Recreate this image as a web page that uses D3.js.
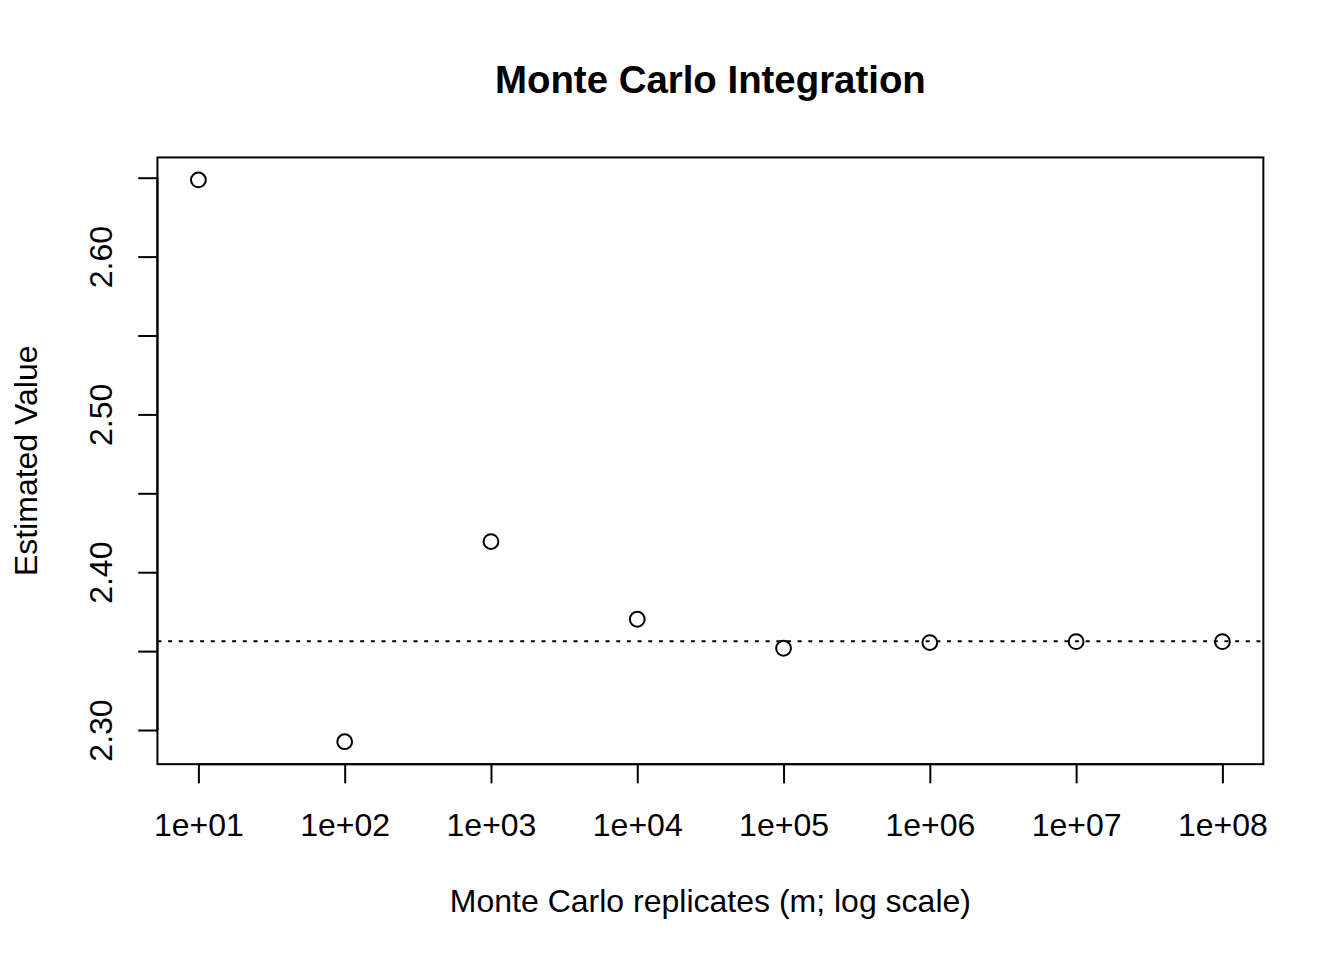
<!DOCTYPE html>
<html>
<head>
<meta charset="utf-8">
<script src="https://cdn.jsdelivr.net/npm/d3@7"></script>
<style>
  html, body { margin: 0; padding: 0; background: #fff; }
  text { font-family: "Liberation Sans", Arial, Helvetica, sans-serif; fill: #000; }
</style>
</head>
<body>
<svg id="chart" width="1344" height="960"></svg>
<script>
// ---- data ----
const replicates = [1e1, 1e2, 1e3, 1e4, 1e5, 1e6, 1e7, 1e8];
const estimates  = [2.6486, 2.2926, 2.4194, 2.3702, 2.3518, 2.3554, 2.3560, 2.3560];
const trueValue  = 2.3562; // 3*pi/4 reference line
const xTickValues = [1e1, 1e2, 1e3, 1e4, 1e5, 1e6, 1e7, 1e8];
const xTickLabels = ["1e+01", "1e+02", "1e+03", "1e+04", "1e+05", "1e+06", "1e+07", "1e+08"];
const yTickValues = [2.30, 2.35, 2.40, 2.45, 2.50, 2.55, 2.60, 2.65];
const yTickLabels = ["2.30", "", "2.40", "", "2.50", "", "2.60", ""];
const titleText = "Monte Carlo Integration";
const xLabelText = "Monte Carlo replicates (m; log scale)";
const yLabelText = "Estimated Value";

// ---- layout (R base graphics, 7x5in @192dpi) ----
const W = 1344, H = 960, lineH = 38.4;
const mLeft = 4.1 * lineH, mTop = 4.1 * lineH, mRight = W - 2.1 * lineH, mBottom = H - 5.1 * lineH;

const svg = d3.select("#chart");

// R-style 4% padded domains
const lx = d3.extent(replicates.map(Math.log10));
const px = (lx[1] - lx[0]) * 0.04;
const x = d3.scaleLog().domain([Math.pow(10, lx[0] - px), Math.pow(10, lx[1] + px)]).range([mLeft, mRight]);
const ey = d3.extent(estimates);
const py = (ey[1] - ey[0]) * 0.04;
const y = d3.scaleLinear().domain([ey[0] - py, ey[1] + py]).range([mBottom, mTop]);

// box
svg.append("rect")
  .attr("x", mLeft).attr("y", mTop)
  .attr("width", mRight - mLeft).attr("height", mBottom - mTop)
  .attr("fill", "none").attr("stroke", "#000").attr("stroke-width", 2);

// x axis
const xAxis = d3.axisBottom(x).tickValues(xTickValues)
  .tickFormat((d, i) => xTickLabels[i]).tickSize(19.2).tickPadding(0);
const gx = svg.append("g").attr("transform", `translate(0,${mBottom})`).call(xAxis);
gx.select(".domain").attr("d", `M${x(xTickValues[0])},0H${x(xTickValues[xTickValues.length-1])}`)
  .attr("stroke", "#000").attr("stroke-width", 2);
gx.selectAll(".tick line").attr("stroke", "#000").attr("stroke-width", 2);
gx.selectAll(".tick text").attr("y", null).attr("dy", null)
  .attr("transform", "translate(0,72)")
  .style("font-family", "'Liberation Sans', Arial, sans-serif")
  .style("font-size", "32px").attr("fill", "#000");

// y axis
const yAxis = d3.axisLeft(y).tickValues(yTickValues)
  .tickFormat((d, i) => yTickLabels[i]).tickSize(19.2).tickPadding(0);
const gy = svg.append("g").attr("transform", `translate(${mLeft},0)`).call(yAxis);
gy.select(".domain").attr("d", `M0,${y(yTickValues[0])}V${y(yTickValues[yTickValues.length-1])}`)
  .attr("stroke", "#000").attr("stroke-width", 2);
gy.selectAll(".tick line").attr("stroke", "#000").attr("stroke-width", 2);
gy.selectAll(".tick text").attr("x", null).attr("dy", null)
  .attr("text-anchor", "middle")
  .attr("transform", `translate(${112 - mLeft},0) rotate(-90)`)
  .style("font-family", "'Liberation Sans', Arial, sans-serif")
  .style("font-size", "32px").attr("fill", "#000");

// reference line
svg.append("line")
  .attr("x1", mLeft).attr("x2", mRight)
  .attr("y1", y(trueValue)).attr("y2", y(trueValue))
  .attr("stroke", "#000").attr("stroke-width", 2).attr("stroke-dasharray", "4,6.67");

// points
svg.append("g").selectAll("circle")
  .data(replicates.map((m, i) => ({ m, v: estimates[i] })))
  .join("circle")
  .attr("cx", d => x(d.m)).attr("cy", d => y(d.v)).attr("r", 7.4)
  .attr("fill", "none").attr("stroke", "#000").attr("stroke-width", 2);

// titles
svg.append("text").attr("x", (mLeft + mRight) / 2).attr("y", 93)
  .attr("text-anchor", "middle").style("font-weight", "bold").style("font-size", "38.4px")
  .text(titleText);
svg.append("text").attr("x", (mLeft + mRight) / 2).attr("y", 912)
  .attr("text-anchor", "middle").style("font-size", "32px")
  .text(xLabelText);
svg.append("text")
  .attr("transform", `translate(37,${(mTop + mBottom) / 2}) rotate(-90)`)
  .attr("text-anchor", "middle").style("font-size", "32px")
  .text(yLabelText);
</script>
</body>
</html>
